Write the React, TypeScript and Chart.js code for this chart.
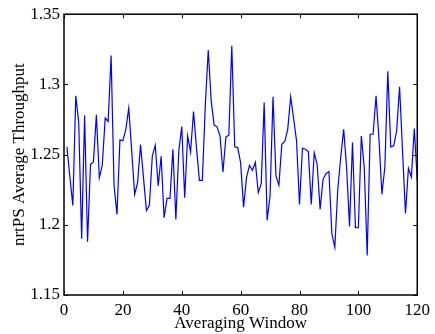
import React, { useEffect, useRef } from "react";
import { Chart, registerables } from "chart.js";

Chart.register(...registerables);

const windows = [
  1, 2, 3, 4, 5, 6, 7, 8, 9, 10, 11, 12, 13, 14, 15, 16, 17, 18, 19, 20,
  21, 22, 23, 24, 25, 26, 27, 28, 29, 30, 31, 32, 33, 34, 35, 36, 37, 38, 39, 40,
  41, 42, 43, 44, 45, 46, 47, 48, 49, 50, 51, 52, 53, 54, 55, 56, 57, 58, 59, 60,
  61, 62, 63, 64, 65, 66, 67, 68, 69, 70, 71, 72, 73, 74, 75, 76, 77, 78, 79, 80,
  81, 82, 83, 84, 85, 86, 87, 88, 89, 90, 91, 92, 93, 94, 95, 96, 97, 98, 99, 100,
  101, 102, 103, 104, 105, 106, 107, 108, 109, 110, 111, 112, 113, 114, 115, 116, 117, 118, 119, 120,
];

const throughput = [
  1.2555, 1.234, 1.2138, 1.2919, 1.2729, 1.19, 1.2781, 1.1879, 1.2431, 1.2448,
  1.2783, 1.2336, 1.2424, 1.276, 1.2736, 1.3205, 1.228, 1.2074, 1.2605, 1.2598,
  1.268, 1.2831, 1.2526, 1.2217, 1.23, 1.2571, 1.2336, 1.2102, 1.2138, 1.249,
  1.2567, 1.2276, 1.2488, 1.205, 1.2188, 1.2188, 1.2538, 1.2038, 1.2526, 1.27,
  1.2193, 1.2633, 1.2519, 1.2807, 1.255, 1.2317, 1.2317, 1.285, 1.3245, 1.2883,
  1.271, 1.2698, 1.2633, 1.2376, 1.2626, 1.2638, 1.3276, 1.2555, 1.255, 1.2443,
  1.2126, 1.2336, 1.2424, 1.2388, 1.2445, 1.2229, 1.2293, 1.2871, 1.2033, 1.2205,
  1.2912, 1.2348, 1.2283, 1.2574, 1.2593, 1.268, 1.2912, 1.2757, 1.2598, 1.2145,
  1.2545, 1.2538, 1.2521, 1.2145, 1.2514, 1.2431, 1.211, 1.2324, 1.2364, 1.2379,
  1.1936, 1.184, 1.2252, 1.2479, 1.268, 1.2407, 1.1988, 1.2586, 1.1979, 1.1979,
  1.2633, 1.2407, 1.1781, 1.2645, 1.2645, 1.2919, 1.261, 1.2217, 1.2412, 1.3093,
  1.2555, 1.2562, 1.2669, 1.2983, 1.2526, 1.2081, 1.2402, 1.2341, 1.2686, 1.2317,
];

const xTicks = [0, 20, 40, 60, 80, 100, 120];
const yTicks = [1.15, 1.2, 1.25, 1.3, 1.35];
const xTitle = "Averaging Window";
const yTitle = "nrtPS Average Throughput";

const FONT = "'Liberation Serif', 'Times New Roman', serif";

const boxPlugin = {
  id: "matlabBox",
  afterDraw(chart: any) {
    const { ctx, chartArea: a, scales } = chart;
    ctx.save();
    ctx.strokeStyle = "#000";
    ctx.lineWidth = 1;
    const L = 4;
    ctx.beginPath();
    for (const t of scales.x.ticks) {
      const px = Math.round(scales.x.getPixelForValue(t.value)) + 0.5;
      ctx.moveTo(px, a.bottom);
      ctx.lineTo(px, a.bottom - L);
      ctx.moveTo(px, a.top);
      ctx.lineTo(px, a.top + L);
    }
    for (const t of scales.y.ticks) {
      const py = Math.round(scales.y.getPixelForValue(t.value)) + 0.5;
      ctx.moveTo(a.left, py);
      ctx.lineTo(a.left + L, py);
      ctx.moveTo(a.right, py);
      ctx.lineTo(a.right - L, py);
    }
    ctx.stroke();
    ctx.lineWidth = 1.5;
    ctx.strokeRect(a.left, a.top, a.right - a.left, a.bottom - a.top);
    ctx.restore();
  },
};

export default function App() {
  const ref = useRef<HTMLCanvasElement | null>(null);

  useEffect(() => {
    if (!ref.current) return;
    const chart = new Chart(ref.current, {
      type: "line",
      data: {
        datasets: [
          {
            data: windows.map((w, i) => ({ x: w, y: throughput[i] })),
            borderColor: "#0000ff",
            borderWidth: 1.2,
            pointRadius: 0,
            tension: 0,
            fill: false,
          },
        ],
      },
      options: {
        animation: false,
        responsive: true,
        maintainAspectRatio: false,
        layout: { padding: { top: 14, right: 14, left: 0, bottom: 0 } },
        plugins: { legend: { display: false }, tooltip: { enabled: false } },
        scales: {
          x: {
            type: "linear",
            min: 0,
            max: 120,
            afterBuildTicks: (s: any) => {
              s.ticks = xTicks.map((v) => ({ value: v }));
            },
            afterFit: (s: any) => {
              s.height = 39;
            },
            grid: { display: false, drawTicks: false },
            border: { display: false },
            ticks: {
              padding: 5,
              color: "#000",
              font: { family: FONT, size: 17 },
              maxRotation: 0,
              callback: (v: any) => String(v),
            },
            title: {
              display: true,
              text: xTitle,
              color: "#000",
              font: { family: FONT, size: 17 },
              padding: { top: 0, bottom: 0 },
            },
          },
          y: {
            type: "linear",
            min: 1.15,
            max: 1.35,
            afterBuildTicks: (s: any) => {
              s.ticks = yTicks.map((v) => ({ value: v }));
            },
            afterFit: (s: any) => {
              s.width = 64;
            },
            grid: { display: false, drawTicks: false },
            border: { display: false },
            ticks: {
              padding: 4,
              color: "#000",
              font: { family: FONT, size: 17 },
              callback: (v: any) => String(Number(Number(v).toFixed(2))),
            },
            title: {
              display: true,
              text: yTitle,
              color: "#000",
              font: { family: FONT, size: 17 },
              padding: { top: 9, bottom: 0 },
            },
          },
        },
      },
      plugins: [boxPlugin],
    });
    return () => chart.destroy();
  }, []);

  return (
    <div style={{ position: "absolute", left: 0, top: 0, width: 435, height: 334, background: "#fff" }}>
      <canvas ref={ref} />
    </div>
  );
}
